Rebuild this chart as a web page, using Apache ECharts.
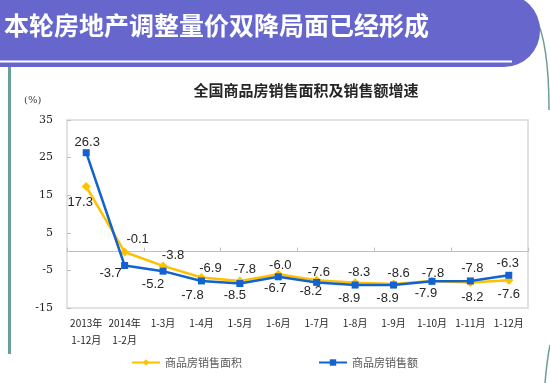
<!DOCTYPE html>
<html>
<head>
<meta charset="utf-8">
<script src="https://cdn.jsdelivr.net/npm/echarts@6/dist/echarts.min.js"></script>
<style>
html,body{margin:0;padding:0;background:#fff;}
#chart{width:550px;height:383px;}
</style>
</head>
<body>
<div id="chart"></div>
<script>
// ---- data ----
const categories = ['2013年\n1-12月','2014年\n1-2月','1-3月','1-4月','1-5月','1-6月','1-7月','1-8月','1-9月','1-10月','1-11月','1-12月'];
const areaGrowth   = [17.3, -0.1, -3.8, -6.9, -7.8, -6.0, -7.6, -8.3, -8.6, -7.8, -8.2, -7.6];
const amountGrowth = [26.3, -3.7, -5.2, -7.8, -8.5, -6.7, -8.2, -8.9, -8.9, -7.9, -7.8, -6.3];
const seriesNames = ['商品房销售面积', '商品房销售额'];
const yMin = -15, yMax = 35, yStep = 10;

// ---- label placement (style) ----
const areaLabelOffsets   = [[-6,16],[13,-13],[10,-10],[9,-9],[5,-12],[2,-9],[2,-8],[4,-10],[5,-11],[1,-8],[2,15],[0,14]];
const amountLabelOffsets = [[1,-10],[-14,8],[-10,13],[-9,14],[-5,12],[-3,12],[-6,9],[-6,13],[-6,13],[-6,12],[2,-13],[-1,-12]];

const YELLOW = '#FFC000', BLUE = '#1262CF', TEAL = '#6A9E98', PURPLE = '#6666CC';

function withLabels(values, offsets){
  return values.map((v,i)=>({
    value: v,
    label: {show:true, position:'inside', offset: offsets[i], formatter: (p)=>p.value.toFixed(1)}
  }));
}

const labelStyle = {color:'#262626', fontSize:13, fontFamily:'"Liberation Sans", Arial, sans-serif'};

const chart = echarts.init(document.getElementById('chart'));
chart.setOption({
  animation:false,
  backgroundColor:'#fff',
  title:{
    text:'全国商品房销售面积及销售额增速',
    left:301, top:78, textAlign:'center',
    textStyle:{fontSize:15, fontWeight:'bold', color:'#262626', fontFamily:'"Noto Sans CJK SC", sans-serif'}
  },
  legend:{
    bottom:10, left:126, itemGap:76, itemWidth:28, itemHeight:8,
    textStyle:{fontSize:11, color:'#595959', fontFamily:'"Noto Sans CJK SC", sans-serif'},
    data: seriesNames
  },
  grid:{left:67, right:22, top:120, bottom:75, show:true, borderColor:'#D9D9D9', borderWidth:1.5, backgroundColor:'transparent'},
  xAxis:[{
    type:'category', data:categories, position:'bottom', boundaryGap:true,
    axisLine:{show:false, onZero:false}, axisTick:{show:false},
    axisLabel:{interval:0, margin:7, fontSize:10, lineHeight:17, color:'#262626', fontFamily:'"Noto Sans CJK SC", sans-serif'}
  },{
    type:'category', data:categories, position:'bottom', boundaryGap:true,
    axisLine:{show:true, onZero:true, lineStyle:{color:'#BFBFBF', width:1}},
    axisTick:{show:true, inside:true, length:4, lineStyle:{color:'#BFBFBF'}},
    axisLabel:{show:false}
  }],
  yAxis:{
    type:'value', min:yMin, max:yMax, interval:yStep,
    axisLine:{show:false}, axisTick:{show:true, inside:true, length:4, lineStyle:{color:'#BFBFBF'}},
    splitLine:{show:false},
    axisLabel:{margin:14, fontSize:11, color:'#262626', fontFamily:'"DejaVu Serif", serif'}
  },
  graphic:[
    {type:'rect', shape:{x:-40, y:-6, width:580, height:73, r:[0,36,36,0]}, style:{fill:PURPLE}, z:10},
    {type:'rect', shape:{x:0, y:60.5, width:512, height:2}, style:{fill:'#ffffff'}, z:11},
    {type:'text', left:4, top:13, style:{text:'本轮房地产调整量价双降局面已经形成', fill:'#ffffff', font:'bold 25px "Noto Sans CJK SC", sans-serif'}, z:12},
    {type:'bezierCurve', shape:{x1:534, y1:14, cpx1:549, cpy1:40, x2:549, y2:110}, style:{stroke:TEAL, lineWidth:1.5, fill:null}, z:5},
    {type:'bezierCurve', shape:{x1:550, y1:345, cpx1:547, cpy1:360, x2:545, y2:383}, style:{stroke:TEAL, lineWidth:1.5, fill:null}, z:5},
    {type:'rect', shape:{x:8, y:66, width:3, height:288}, style:{fill:TEAL}, z:5},
    {type:'text', left:24, top:95, style:{text:'(%)', fill:'#404040', font:'10px "DejaVu Serif", serif'}}
  ],
  series:[{
    name:seriesNames[0], type:'line', xAxisIndex:0,
    data: withLabels(areaGrowth, areaLabelOffsets),
    symbol:'diamond', symbolSize:9, itemStyle:{color:YELLOW}, lineStyle:{color:YELLOW, width:2.5},
    label:labelStyle, z:2
  },{
    name:seriesNames[1], type:'line', xAxisIndex:0,
    data: withLabels(amountGrowth, amountLabelOffsets),
    symbol:'rect', symbolSize:7, itemStyle:{color:BLUE}, lineStyle:{color:BLUE, width:2.5},
    label:labelStyle, z:3
  }]
});
</script>
</body>
</html>
